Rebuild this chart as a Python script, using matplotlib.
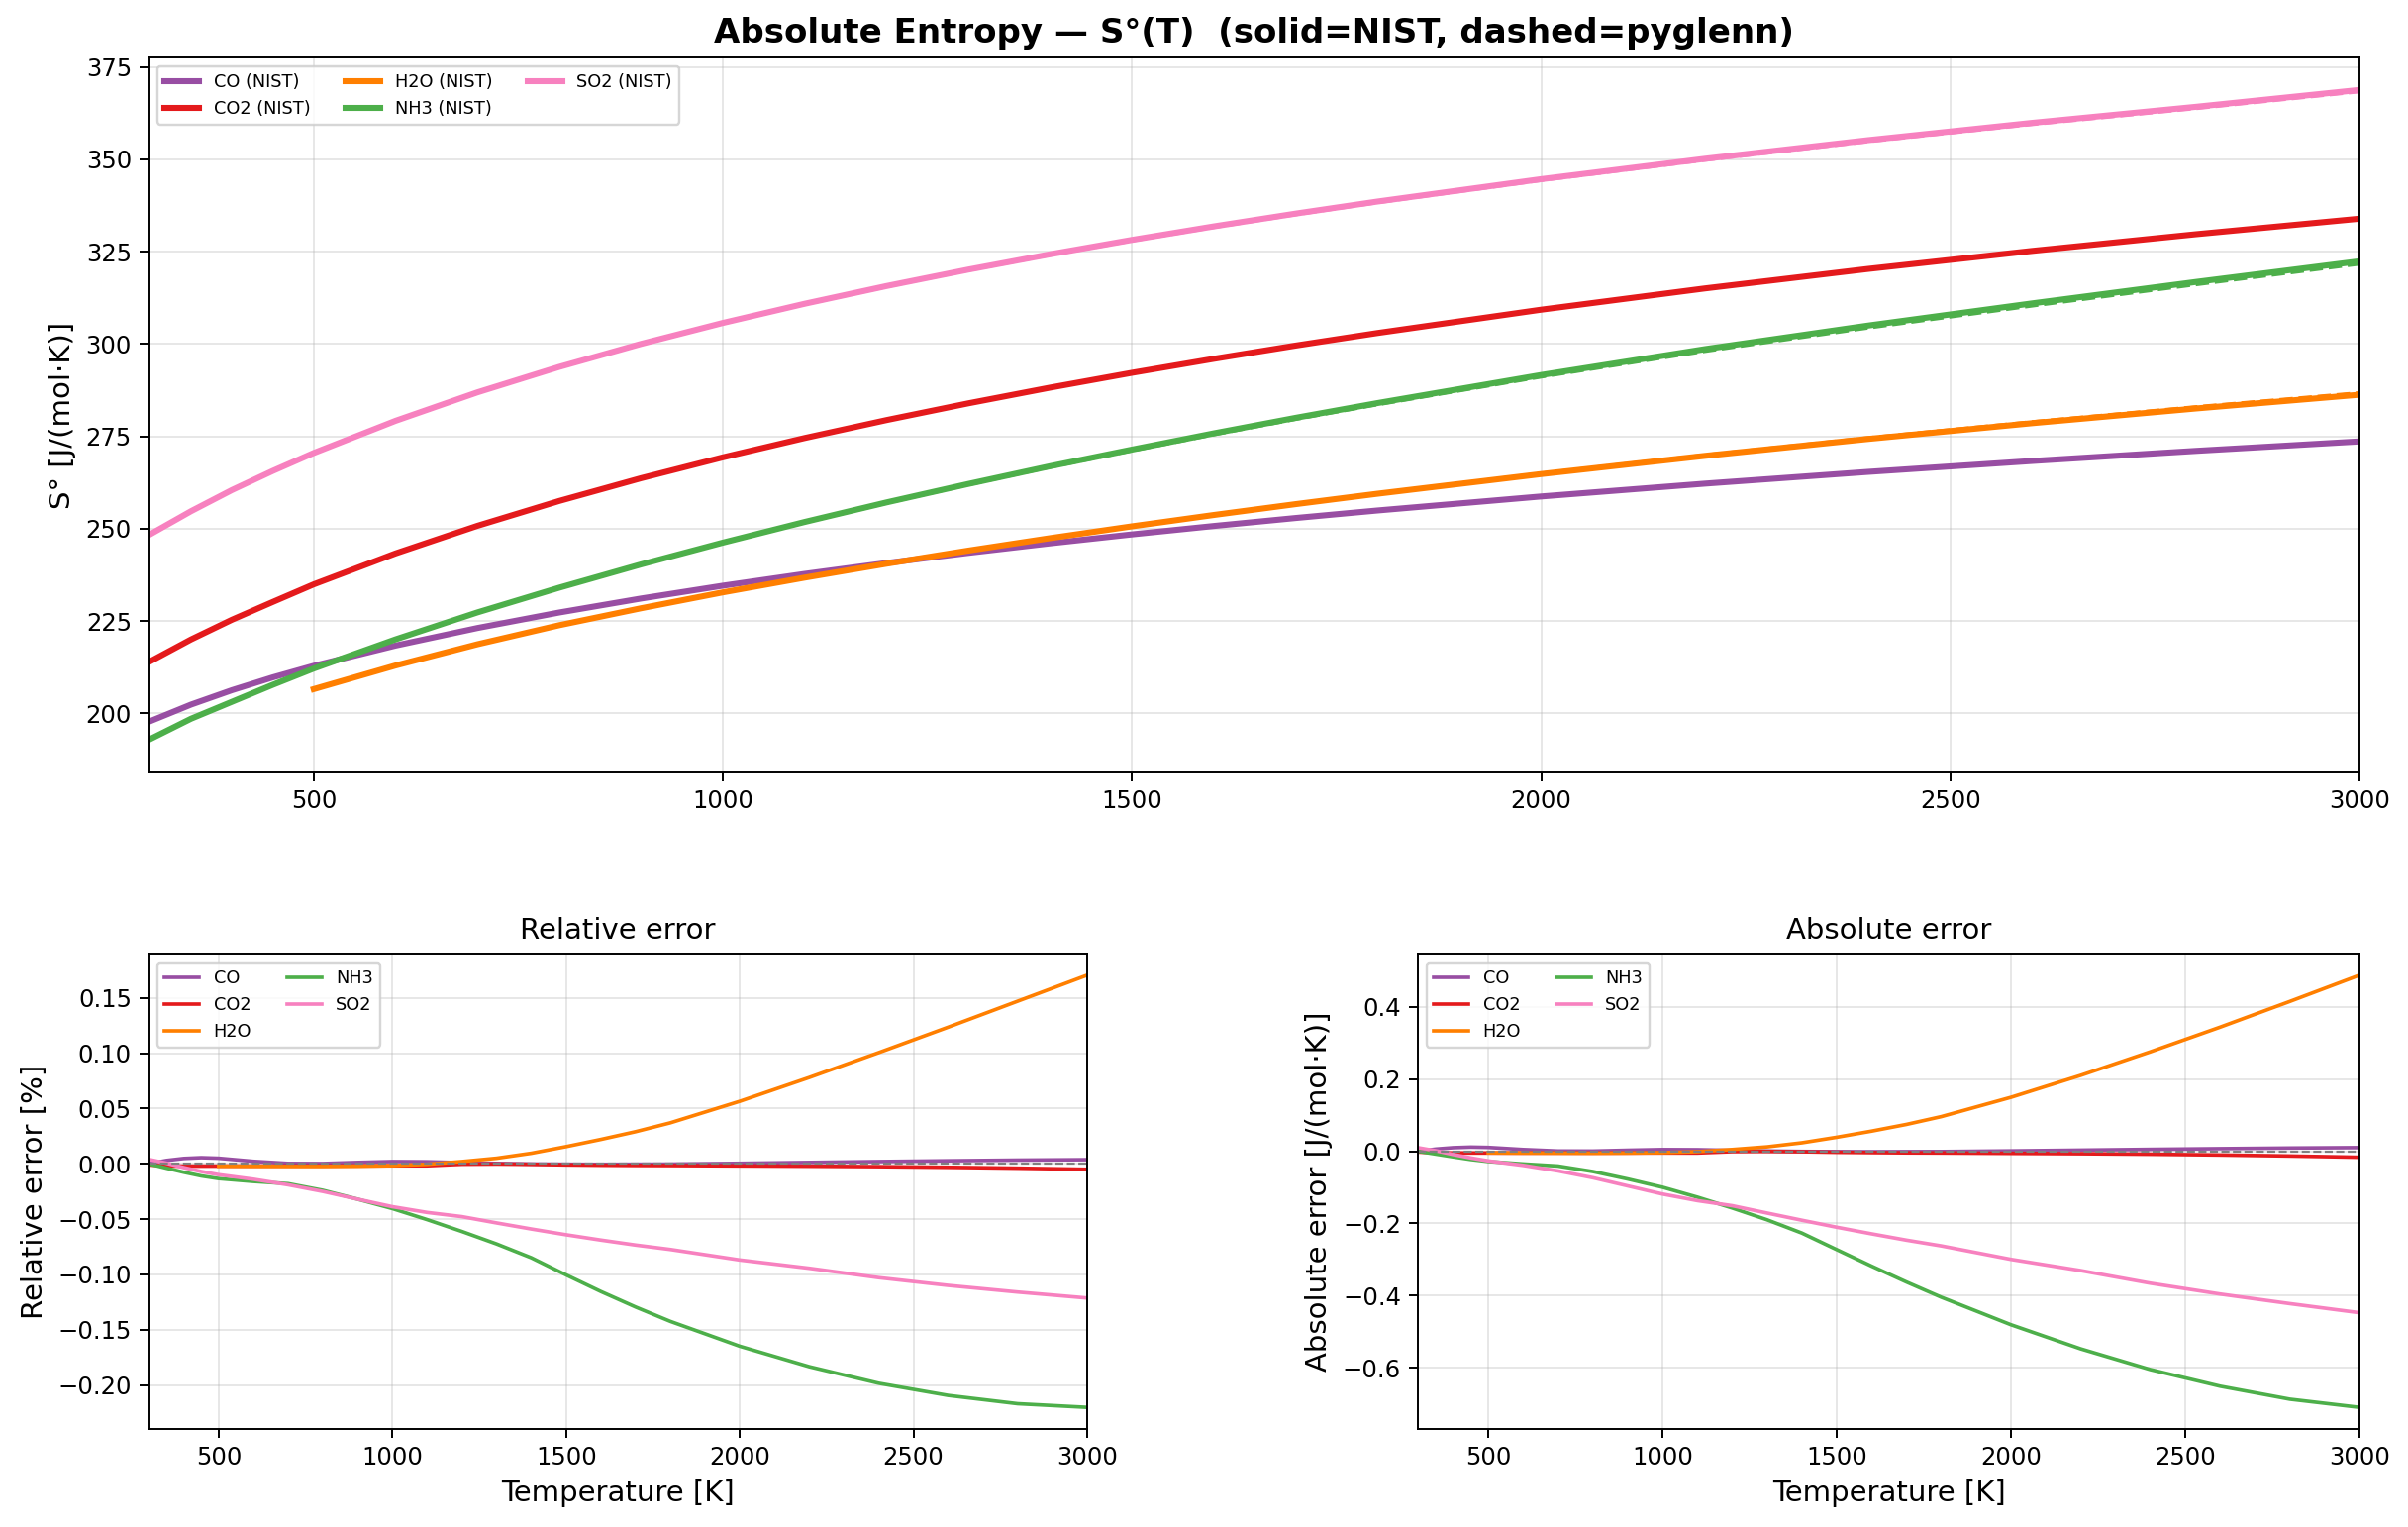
import numpy as np
import matplotlib
matplotlib.use("Agg")
import matplotlib.pyplot as plt

# ---------------- data ----------------
species = ["CO", "CO2", "H2O", "NH3", "SO2"]
colors = ["#984ea3", "#e41a1c", "#ff7f00", "#4daf4a", "#f781bf"]

T = [298.15, 350, 400, 450, 500, 600, 700, 800, 900, 1000, 1100, 1200, 1300, 1400,
     1500, 1600, 1700, 1800, 2000, 2200, 2400, 2600, 2800, 3000]
T_h2o = [500, 600, 700, 800, 900, 1000, 1100, 1200, 1300, 1400,
         1500, 1600, 1700, 1800, 2000, 2200, 2400, 2600, 2800, 3000]

# NIST absolute entropy S°(T) [J/(mol K)]
S_CO = [197.66, 202.34, 206.24, 209.71, 212.83, 218.32, 223.07, 227.28, 231.07, 234.54,
        237.73, 240.68, 243.43, 246.01, 248.43, 250.71, 252.87, 254.91, 258.71, 262.18,
        265.37, 268.31, 271.05, 273.61]
S_CO2 = [213.80, 219.97, 225.31, 230.14, 234.90, 243.28, 250.75, 257.49, 263.65, 269.30,
         274.53, 279.39, 283.93, 288.19, 292.20, 295.98, 299.57, 302.97, 309.29, 315.05,
         320.34, 325.21, 329.72, 333.93]
S_H2O = [206.53, 212.92, 218.67, 223.83, 228.43, 232.74, 236.73, 240.49, 244.04, 247.41,
         250.62, 253.69, 256.63, 259.45, 264.77, 269.70, 274.29, 278.55, 282.53, 286.26]
S_NH3 = [192.77, 198.50, 203.10, 207.70, 212.10, 220.00, 227.30, 234.00, 240.30, 246.20,
         251.80, 257.10, 262.10, 266.90, 271.40, 275.80, 280.00, 284.00, 291.60, 298.60,
         305.00, 311.00, 316.80, 322.40]
S_SO2 = [248.20, 254.70, 260.44, 265.62, 270.48, 279.19, 286.90, 293.79, 300.02, 305.70,
         310.90, 315.70, 320.15, 324.30, 328.19, 331.85, 335.31, 338.58, 344.64, 350.15,
         355.21, 359.88, 364.22, 368.80]

# relative error (pyglenn vs NIST) [%]
rel_CO = [0.0, 0.0030, 0.0048, 0.0055, 0.0050, 0.0022, 0.0003, 0.0002, 0.0012, 0.0020,
          0.0018, 0.0010, 0.0003, -0.0002, -0.0004, -0.0005, -0.0004, -0.0003, 0.0004,
          0.0012, 0.0020, 0.0027, 0.0033, 0.0037]
rel_CO2 = [-0.0010, -0.0020, -0.0021, -0.0021, -0.0021, -0.0021, -0.0020, -0.0020, -0.0019,
           -0.0018, -0.0018, -0.0004, -0.0002, -0.0005, -0.0010, -0.0013, -0.0015, -0.0016,
           -0.0019, -0.0022, -0.0026, -0.0032, -0.0040, -0.0050]
rel_H2O = [-0.0022, -0.0023, -0.0024, -0.0024, -0.0022, -0.0017, -0.0005, 0.0020, 0.0050,
           0.0095, 0.0155, 0.0220, 0.0290, 0.0370, 0.0565, 0.0780, 0.1005, 0.1235, 0.1470,
           0.1705]
rel_NH3 = [0.0, -0.0040, -0.0077, -0.0110, -0.0134, -0.0160, -0.0180, -0.0240, -0.0320,
           -0.0405, -0.0505, -0.0612, -0.0725, -0.0850, -0.1005, -0.1155, -0.1295, -0.1425,
           -0.1650, -0.1835, -0.1985, -0.2095, -0.2170, -0.2203]
rel_SO2 = [0.0040, 0.0005, -0.0035, -0.0070, -0.0099, -0.0140, -0.0190, -0.0250, -0.0320,
           -0.0388, -0.0440, -0.0478, -0.0535, -0.0590, -0.0642, -0.0690, -0.0735, -0.0775,
           -0.0870, -0.0945, -0.1030, -0.1100, -0.1160, -0.1214]

# absolute error (pyglenn - NIST) [J/(mol K)]
abs_CO = [0.0, 0.0061, 0.0099, 0.0115, 0.0106, 0.0048, 0.0007, 0.0005, 0.0028, 0.0047,
          0.0043, 0.0024, 0.0007, -0.0005, -0.0010, -0.0013, -0.0010, -0.0008, 0.0010,
          0.0031, 0.0053, 0.0072, 0.0089, 0.0101]
abs_CO2 = [-0.0021, -0.0044, -0.0047, -0.0048, -0.0049, -0.0051, -0.0050, -0.0051, -0.0050,
           -0.0048, -0.0049, -0.0011, -0.0006, -0.0014, -0.0029, -0.0038, -0.0045, -0.0048,
           -0.0059, -0.0069, -0.0083, -0.0104, -0.0132, -0.0167]
abs_H2O = [-0.0045, -0.0049, -0.0052, -0.0054, -0.0050, -0.0040, -0.0012, 0.0048, 0.0122,
           0.0235, 0.0388, 0.0558, 0.0744, 0.0960, 0.1496, 0.2104, 0.2757, 0.3440, 0.4153,
           0.4881]
abs_NH3 = [0.0, -0.0079, -0.0156, -0.0228, -0.0284, -0.0352, -0.0409, -0.0562, -0.0769,
           -0.0997, -0.1272, -0.1573, -0.1900, -0.2269, -0.2728, -0.3185, -0.3626, -0.4047,
           -0.4811, -0.5479, -0.6054, -0.6515, -0.6875, -0.7102]
abs_SO2 = [0.0099, 0.0013, -0.0091, -0.0186, -0.0268, -0.0391, -0.0545, -0.0734, -0.0960,
           -0.1186, -0.1368, -0.1509, -0.1713, -0.1913, -0.2107, -0.2290, -0.2465, -0.2624,
           -0.2998, -0.3309, -0.3659, -0.3959, -0.4225, -0.4477]

temps = [T, T, T_h2o, T, T]
S_nist = [S_CO, S_CO2, S_H2O, S_NH3, S_SO2]
rel_err = [rel_CO, rel_CO2, rel_H2O, rel_NH3, rel_SO2]
abs_err = [abs_CO, abs_CO2, abs_H2O, abs_NH3, abs_SO2]

# ---------------- figure ----------------
W, H = 2432, 1542
dpi = 175
fig = plt.figure(figsize=(W / dpi, H / dpi), dpi=dpi)

ax_top = fig.add_axes([150 / W, 1 - 780 / H, (2383 - 150) / W, (780 - 58) / H])
ax_rel = fig.add_axes([150 / W, 1 - 1443 / H, (1098 - 150) / W, (1443 - 963) / H])
ax_abs = fig.add_axes([1432 / W, 1 - 1443 / H, (2383 - 1432) / W, (1443 - 963) / H])

xmin, xmax = T[0], T[-1]

for name, c, t, s, a in zip(species, colors, temps, S_nist, abs_err):
    t = np.asarray(t, float)
    s = np.asarray(s, float)
    ax_top.plot(t, s, color=c, lw=2.5, label=f"{name} (NIST)")
    ax_top.plot(t, s + np.asarray(a, float), color=c, lw=1.5, ls="--")

ax_top.set_xlim(xmin, xmax)
ax_top.set_ylabel("S° [J/(mol·K)]", fontsize=12)
ax_top.set_title("Absolute Entropy — S°(T)  (solid=NIST, dashed=pyglenn)",
                 fontsize=14, fontweight="bold")
ax_top.grid(True, alpha=0.3)
ax_top.legend(loc="upper left", ncol=3, fontsize=7.3)

for ax, data, ylab, title in [
    (ax_rel, rel_err, "Relative error [%]", "Relative error"),
    (ax_abs, abs_err, "Absolute error [J/(mol·K)]", "Absolute error"),
]:
    for name, c, t, d in zip(species, colors, temps, data):
        ax.plot(t, d, color=c, lw=1.5, label=name)
    ax.axhline(0, color="gray", ls="--", lw=0.9)
    ax.set_xlim(xmin, xmax)
    ax.set_xlabel("Temperature [K]", fontsize=12)
    ax.set_ylabel(ylab, fontsize=12)
    ax.set_title(title, fontsize=12)
    ax.grid(True, alpha=0.3)
    ax.legend(loc="upper left", ncol=2, fontsize=7.3)

fig.savefig("out.png", dpi=dpi)
